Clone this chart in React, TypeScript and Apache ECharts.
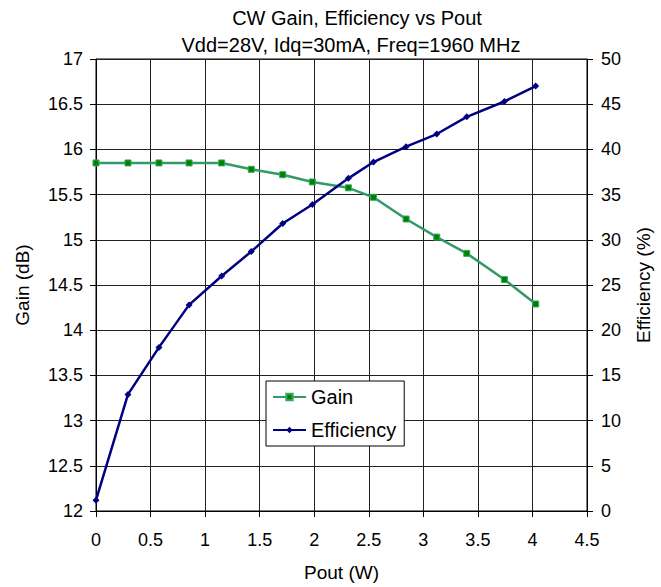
import React, { useEffect, useRef } from "react";
import * as echarts from "echarts";

const poutW = [0, 0.293, 0.577, 0.853, 1.152, 1.423, 1.711, 1.983, 2.313, 2.543, 2.842, 3.123, 3.398, 3.743, 4.03];
const gainDb = [15.85, 15.85, 15.85, 15.85, 15.85, 15.78, 15.72, 15.64, 15.575, 15.47, 15.23, 15.03, 14.85, 14.56, 14.29];
const efficiencyPct = [1.2, 12.9, 18.1, 22.8, 26.0, 28.7, 31.8, 33.9, 36.8, 38.6, 40.3, 41.7, 43.6, 45.3, 47.0];

const titleLines = ["CW Gain, Efficiency vs Pout", "Vdd=28V, Idq=30mA, Freq=1960 MHz"];

export default function App() {
  const ref = useRef<HTMLDivElement>(null);
  useEffect(() => {
    if (!ref.current) return;
    const chart = echarts.init(ref.current, null, { renderer: "svg" });
    const font = "Liberation Sans, Arial, sans-serif";
    const tickText = { color: "#000", fontSize: 18, fontFamily: font };
    const nameText = { color: "#000", fontSize: 19, fontFamily: font };
    chart.setOption({
      animation: false,
      backgroundColor: "#fff",
      textStyle: { fontFamily: font },
      graphic: [
        { type: "text", x: 357, y: 17.5, style: { text: titleLines[0], fill: "#000", font: `20px ${font}`, align: "center", verticalAlign: "middle" } },
        { type: "text", x: 351, y: 44.5, style: { text: titleLines[1], fill: "#000", font: `20px ${font}`, align: "center", verticalAlign: "middle" } },
      ],
      grid: { left: 96, right: 74, top: 59, height: 455, show: true, borderColor: "#000", borderWidth: 1, backgroundColor: "transparent" },
      legend: {
        orient: "vertical",
        left: 266,
        top: 381,
        backgroundColor: "#fff",
        borderColor: "#000",
        borderWidth: 1,
        borderRadius: 0,
        padding: [6, 8, 6, 6],
        itemGap: 13,
        itemWidth: 33,
        itemHeight: 8,
        textStyle: { color: "#000", fontSize: 20, fontFamily: font },
        data: ["Gain", "Efficiency"],
      },
      xAxis: {
        type: "value",
        min: 0,
        max: 4.5,
        interval: 0.5,
        name: "Pout (W)",
        nameLocation: "middle",
        nameGap: 52,
        nameTextStyle: nameText,
        axisLine: { show: true, onZero: false, lineStyle: { color: "#000", width: 1 } },
        axisTick: { show: true, inside: false, length: 6, lineStyle: { color: "#000" } },
        axisLabel: { ...tickText, margin: 20 },
        splitLine: { show: true, lineStyle: { color: "#222", width: 1 } },
      },
      yAxis: [
        {
          type: "value",
          min: 12,
          max: 17,
          interval: 0.5,
          name: "Gain (dB)",
          nameLocation: "middle",
          nameGap: 64,
          nameRotate: 90,
          nameTextStyle: nameText,
          axisLine: { show: true, lineStyle: { color: "#000", width: 1 } },
          axisTick: { show: true, inside: false, length: 6, lineStyle: { color: "#000" } },
          axisLabel: { ...tickText, margin: 13 },
          splitLine: { show: true, lineStyle: { color: "#222", width: 1 } },
        },
        {
          type: "value",
          min: 0,
          max: 50,
          interval: 5,
          position: "right",
          name: "Efficiency (%)",
          nameLocation: "middle",
          nameGap: 47,
          nameRotate: 90,
          nameTextStyle: nameText,
          axisLine: { show: true, lineStyle: { color: "#000", width: 1 } },
          axisTick: { show: true, inside: false, length: 6, lineStyle: { color: "#000" } },
          axisLabel: { ...tickText, margin: 14 },
          splitLine: { show: false },
        },
      ],
      series: [
        {
          name: "Gain",
          type: "line",
          yAxisIndex: 0,
          data: poutW.map((x, i) => [x, gainDb[i]]),
          symbol: "rect",
          symbolSize: 6,
          showAllSymbol: true,
          lineStyle: { color: "#339966", width: 2.5 },
          itemStyle: { color: "#008000", borderColor: "#33aa66", borderWidth: 1 },
          z: 3,
        },
        {
          name: "Efficiency",
          type: "line",
          yAxisIndex: 1,
          data: poutW.map((x, i) => [x, efficiencyPct[i]]),
          symbol: "diamond",
          symbolSize: 7,
          showAllSymbol: true,
          lineStyle: { color: "#000080", width: 2.5 },
          itemStyle: { color: "#000080" },
          z: 4,
        },
      ],
    });
    return () => chart.dispose();
  }, []);
  return <div ref={ref} style={{ position: "fixed", left: 0, top: 0, width: 661, height: 587 }} />;
}
